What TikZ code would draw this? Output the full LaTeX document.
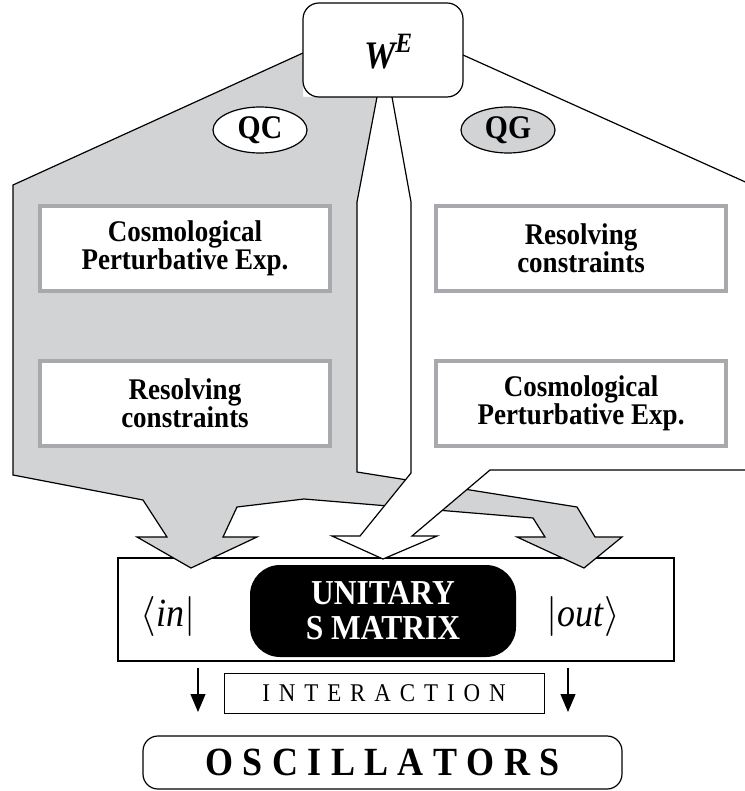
\documentclass[tikz,border=0pt]{standalone}
\usepackage{fix-cm}
\usepackage{fontspec}
\setmainfont{Liberation Serif}[FakeStretch=0.9]
\usetikzlibrary{arrows.meta,shapes.geometric}
\definecolor{qgray}{RGB}{209,211,212}
\definecolor{bgray}{RGB}{167,169,172}
\begin{document}
\begin{tikzpicture}[x=1pt,y=-1pt,
 outline/.style={draw=black,line width=1.2pt,line join=miter},
 textbox/.style={rectangle,draw=bgray,line width=3.5pt,fill=white,minimum width=290pt,minimum height=85pt,inner sep=0pt,align=center,font=\fontsize{30}{27}\selectfont\bfseries},
 tag/.style={ellipse,draw=black,line width=1.2pt,minimum width=94pt,minimum height=46pt,inner sep=0pt,font=\fontsize{33}{33}\selectfont\bfseries},
 flow/.style={-{Triangle[length=18pt,width=15pt]},line width=1.2pt},
 plainbox/.style={rectangle,draw=black,line width=1.2pt,fill=white,inner sep=0pt}
]
\useasboundingbox (0,0) rectangle (744,791);

% S matrix frame
\node[plainbox,minimum width=556pt,minimum height=103pt] (sbox) at (396,609.5) {};

% QC grey arrow
\fill[qgray] (303,53) -- (13,185) -- (13,475) -- (143,500) -- (167,537) -- (137,537) -- (191,568) -- (257,537) -- (223,537) -- (237,507) -- (304,499) -- (533,518) -- (545,537) -- (517,537) -- (584,568) -- (622,537) -- (595,537) -- (577,507) -- (357,472) -- (357,202) -- (377,97) -- (303,97) -- cycle;
\draw[outline] (303,53) -- (13,185) -- (13,475) -- (143,500) -- (167,537) -- (137,537) -- (191,568) -- (257,537) -- (223,537) -- (237,507) -- (304,499) -- (533,518) -- (545,537) -- (517,537) -- (584,568) -- (622,537) -- (595,537) -- (577,507) -- (357,472) -- (357,202) -- (377,97);

% QG white arrow
\fill[white] (463,55) -- (752,185) -- (752,470) -- (490,470) -- (412,536) -- (437,536) -- (383,559) -- (332,536) -- (360,536) -- (411,473) -- (411,202) -- (392,97) -- (463,97) -- cycle;
\draw[outline] (463,55) -- (752,185) -- (752,470) -- (490,470) -- (412,536) -- (437,536) -- (383,559) -- (332,536) -- (360,536) -- (411,473) -- (411,202) -- (392,97);

% W^E
\node[plainbox,rounded corners=16pt,minimum width=160pt,minimum height=94pt] (we) at (383,50) {};
\node[anchor=base west,inner sep=0pt,font=\fontsize{39}{39}\selectfont\bfseries\itshape] (wetext) at (364,69) {W\raisebox{16pt}{\fontsize{28}{28}\selectfont E}};

% tags
\node[tag,fill=white] (qc) at (260,130) {QC};
\node[tag,fill=qgray] (qg) at (508,130) {QG};

% text boxes
\node[textbox] (lcpe) at (185,248.5) {Cosmological\\Perturbative Exp.};
\node[textbox] (lrc) at (185,403.5) {Resolving\\constraints};
\node[textbox] (rrc) at (581,248.5) {Resolving\\constraints};
\node[textbox] (rcpe) at (581,403.5) {Cosmological\\Perturbative Exp.};

% unitary S matrix
\node[rectangle,rounded corners=30pt,fill=black,minimum width=266pt,minimum height=92pt,inner sep=0pt,align=center,text=white,font=\fontsize{35}{35}\selectfont\bfseries] (umat) at (383,611) {UNITARY\\S MATRIX};
\node[inner sep=0pt,font=\fontsize{40}{40}\selectfont] (in) at (168,616) {$\langle$\textit{in}$|$};
\node[inner sep=0pt,font=\fontsize{40}{40}\selectfont] (out) at (583,616) {$|$\textit{out}$\rangle$};

% interaction
\node[plainbox,line width=1pt,minimum width=320pt,minimum height=40pt,font=\fontsize{25.5}{25.5}\selectfont] (inter) at (384,693) {I\kern8.9pt N\kern8.9pt T\kern8.9pt E\kern8.9pt R\kern8.9pt A\kern8.9pt C\kern8.9pt T\kern8.9pt I\kern8.9pt O\kern8.9pt N};

% oscillators
\node[plainbox,rounded corners=15pt,minimum width=479pt,minimum height=53pt,font=\fontsize{40}{40}\selectfont\bfseries] (osc) at (382.5,762.5) {O\kern9.4pt S\kern9.4pt C\kern9.4pt I\kern9.4pt L\kern9.4pt L\kern9.4pt A\kern9.4pt T\kern9.4pt O\kern9.4pt R\kern9.4pt S};

% down arrows
\coordinate (inend) at (198,712);
\coordinate (outend) at (568,712);
\draw[flow] (sbox.south -| inend) ++(0,6) -- (inend);
\draw[flow] (sbox.south -| outend) ++(0,6) -- (outend);
\end{tikzpicture}
\end{document}
